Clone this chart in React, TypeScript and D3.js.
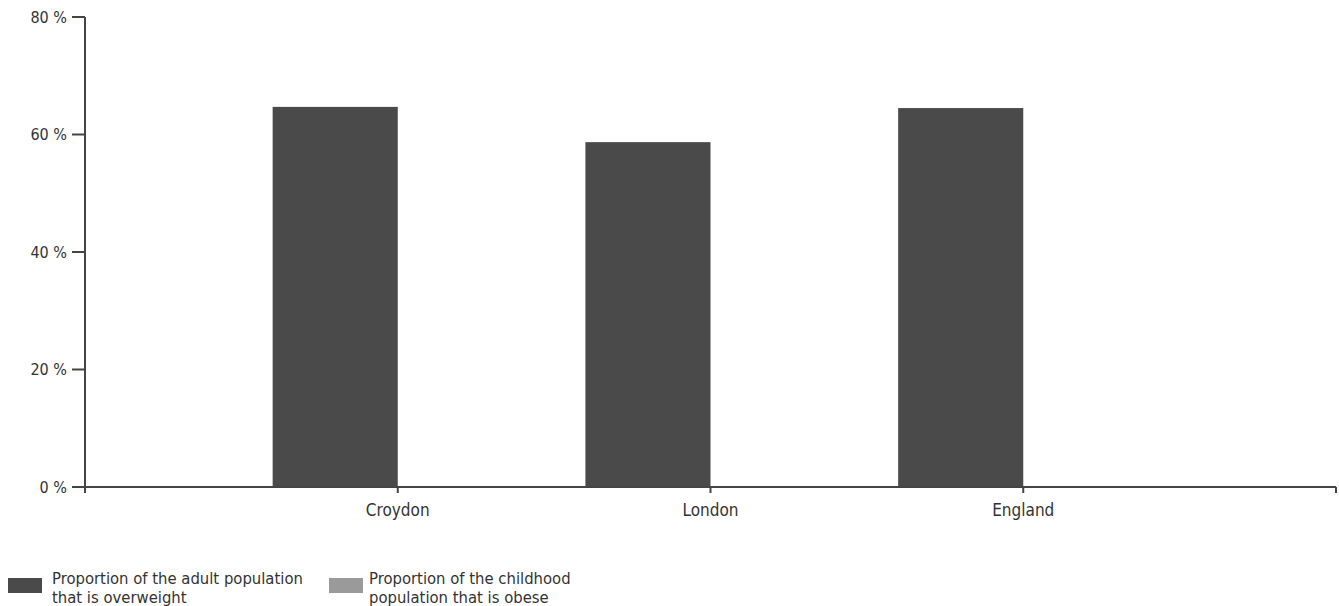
import React from "react";
import * as d3 from "d3";

const categories = ["Croydon", "London", "England"];
const adultOverweight = [64.7, 58.7, 64.5];
const childObese = [0, 0, 0];
const yTicks = [0, 20, 40, 60, 80];
const seriesNames = [
  ["Proportion of the adult population", "that is overweight"],
  ["Proportion of the childhood", "population that is obese"],
];
const seriesColors = ["#4a4a4a", "#9a9a9a"];

const W = 1339;
const H = 606;
const FONT = "'DejaVu Sans Condensed', 'Liberation Sans Narrow', 'Liberation Sans', Arial, sans-serif";

export default function App() {
  const x = d3.scaleLinear().domain([0, categories.length + 1]).range([85, 1336]);
  const y = d3.scaleLinear().domain([0, 80]).range([487, 17]);
  const bw = x(0.4) - x(0);
  const axisColor = "#444";
  const legendX = [8, 329];

  return (
    <svg
      width={W}
      height={H}
      style={{ position: "absolute", left: 0, top: 0, background: "#fff" }}
      fontFamily={FONT}
    >
      {/* bars */}
      {categories.map((c, i) => (
        <g key={c}>
          <rect
            x={x(i + 1) - bw}
            y={y(adultOverweight[i])}
            width={bw}
            height={y(0) - y(adultOverweight[i])}
            fill={seriesColors[0]}
          />
          {childObese[i] > 0 && (
            <rect
              x={x(i + 1)}
              y={y(childObese[i])}
              width={bw}
              height={y(0) - y(childObese[i])}
              fill={seriesColors[1]}
            />
          )}
        </g>
      ))}
      {/* y axis */}
      <line x1={x(0)} x2={x(0)} y1={y(80)} y2={y(0) + 6} stroke={axisColor} strokeWidth={2} />
      {yTicks.map((t) => (
        <g key={t}>
          <line x1={x(0) - 13} x2={x(0)} y1={y(t)} y2={y(t)} stroke={axisColor} strokeWidth={2} />
          <text
            x={x(0) - 18}
            y={y(t)}
            dy="0.35em"
            textAnchor="end"
            fontSize={16}
            fill="#333"
          >
            {t} %
          </text>
        </g>
      ))}
      {/* x axis */}
      <line x1={x(0)} x2={x(4)} y1={y(0)} y2={y(0)} stroke={axisColor} strokeWidth={2} />
      {d3.range(0, categories.length + 2).map((i) => (
        <line key={i} x1={x(i)} x2={x(i)} y1={y(0)} y2={y(0) + 6} stroke={axisColor} strokeWidth={2} />
      ))}
      {categories.map((c, i) => (
        <text key={c} x={x(i + 1)} y={y(0) + 29} textAnchor="middle" fontSize={17} fill="#333">
          {c}
        </text>
      ))}
      {/* legend */}
      {seriesNames.map((lines, k) => {
        const lx = legendX[k];
        return (
          <g key={k}>
            <rect x={lx} y={578} width={34} height={15} fill={seriesColors[k]} />
            {lines.map((l, j) => (
              <text key={j} x={lx + (k === 0 ? 44 : 40)} y={584 + j * 19} fontSize={16.5} fill="#333">
                {l}
              </text>
            ))}
          </g>
        );
      })}
    </svg>
  );
}
